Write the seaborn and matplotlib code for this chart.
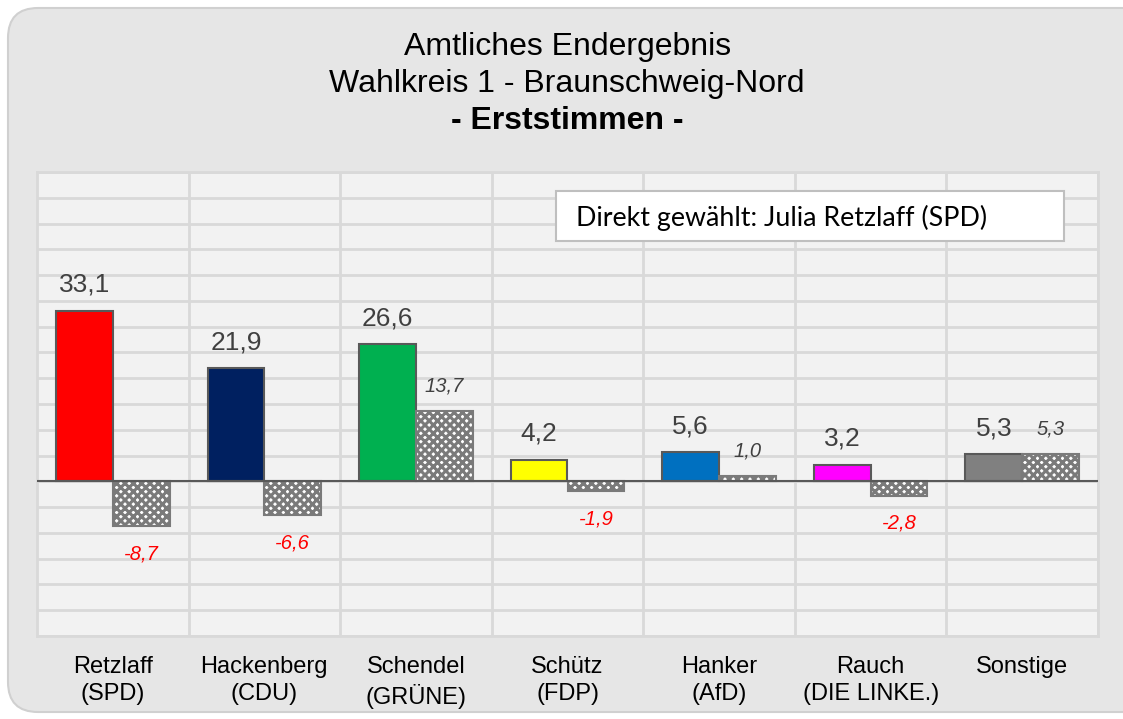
import pandas as pd
import seaborn as sns
import matplotlib.pyplot as plt
from matplotlib.patches import FancyBboxPatch, Rectangle

# dados
kandidaten = ['Retzlaff\n(SPD)', 'Hackenberg\n(CDU)', 'Schendel\n(GRÜNE)', 'Schütz\n(FDP)',
              'Hanker\n(AfD)', 'Rauch\n(DIE LINKE.)', 'Sonstige']
ergebnis = [33.1, 21.9, 26.6, 4.2, 5.6, 3.2, 5.3]
veraenderung = [-8.7, -6.6, 13.7, -1.9, 1.0, -2.8, 5.3]
farben = ['#ff0000', '#002060', '#00b050', '#ffff00', '#0070c0', '#ff00ff', '#808080']

df = pd.DataFrame({
    'Kandidat': kandidaten * 2,
    'Wert': ergebnis + veraenderung,
    'Serie': ['Ergebnis'] * len(kandidaten) + ['Veränderung'] * len(kandidaten),
})

sns.set_style('white')
plt.rcParams['font.family'] = ['Liberation Sans', 'DejaVu Sans']
plt.rcParams['hatch.linewidth'] = 2.2

fig = plt.figure(figsize=(11.23, 7.19), dpi=100, facecolor='white')

# rahmen
rahmen = FancyBboxPatch((0.08, 0.07), 11.6, 7.04, boxstyle='round,pad=0,rounding_size=0.3',
                        transform=fig.dpi_scale_trans, facecolor='#e6e6e6', edgecolor='#d0d0d0',
                        linewidth=1.5, zorder=-10)
fig.patches.append(rahmen)

ax = fig.add_axes([37 / 1123, 1 - 636 / 719, 1061 / 1123, 464 / 719])
ax.set_zorder(1)
ax.set_facecolor('#f2f2f2')

sns.barplot(data=df, x='Kandidat', y='Wert', hue='Serie', width=0.75, ax=ax,
            legend=False, zorder=3)

for bar, c in zip(ax.containers[0], farben):
    bar.set_facecolor(c)
    bar.set_edgecolor('#595959')
    bar.set_linewidth(1.5)
for bar in ax.containers[1]:
    bar.set_facecolor('white')
    bar.set_edgecolor('#7a7a7a')
    bar.set_hatch('xxxx')
    bar.set_linewidth(1.5)

ax.set_ylim(-30, 60)
ax.set_xlim(-0.5, 6.5)
ax.set_yticks(range(-30, 61, 5))
ax.yaxis.grid(True, color='#d9d9d9', linewidth=2)
for i in range(7):
    ax.axvline(i + 0.5, color='#d9d9d9', linewidth=2, zorder=1)
ax.axhline(0, color='#595959', linewidth=1.5, zorder=4)
ax.tick_params(left=False, labelleft=False, bottom=False, pad=11)
ax.set_xticks(range(7))
ax.set_xticklabels(kandidaten, fontsize=17, color='black', linespacing=1.3)
ax.set_xlabel('')
ax.set_ylabel('')
for s in ax.spines.values():
    s.set_color('#d9d9d9')
    s.set_linewidth(2)

# beschriftungen
for bar, v in zip(ax.containers[0], ergebnis):
    x = bar.get_x() + bar.get_width() / 2
    ax.annotate(f'{v:.1f}'.replace('.', ','), (x, v), xytext=(0, 10), textcoords='offset points',
                ha='center', va='bottom', fontsize=19, color='#404040', zorder=5)
for bar, v in zip(ax.containers[1], veraenderung):
    x = bar.get_x() + bar.get_width() / 2
    if v >= 0:
        ax.annotate(f'{v:.1f}'.replace('.', ','), (x, v), xytext=(0, 11), textcoords='offset points',
                    ha='center', va='bottom', fontsize=14.5, style='italic', color='#404040', zorder=5)
    else:
        ax.annotate(f'{v:.1f}'.replace('.', ','), (x, v), xytext=(0, -13), textcoords='offset points',
                    ha='center', va='top', fontsize=14.5, style='italic', color='#ff0000', zorder=5)

# titel
fig.text(0.505, 1 - 47 / 719, 'Amtliches Endergebnis', ha='center', va='center', fontsize=23,
         color='black')
fig.text(0.505, 1 - 84 / 719, 'Wahlkreis 1 - Braunschweig-Nord', ha='center', va='center',
         fontsize=23, color='black')
fig.text(0.505, 1 - 121 / 719, '- Erststimmen -', ha='center', va='center', fontsize=23,
         fontweight='bold', color='black')

# textfeld
box = Rectangle((556 / 1123, 1 - 241 / 719), 508 / 1123, 50 / 719, transform=fig.transFigure,
                facecolor='white', edgecolor='#bfbfbf', linewidth=1.5, zorder=6)
fig.patches.append(box)
fig.text(576 / 1123, 1 - 218 / 719, 'Direkt gewählt: Julia Retzlaff (SPD)', ha='left',
         va='center', fontsize=19.3, family=['Lato', 'DejaVu Sans'], color='black', zorder=7)

fig.savefig('out.png', dpi=100, facecolor='white')
